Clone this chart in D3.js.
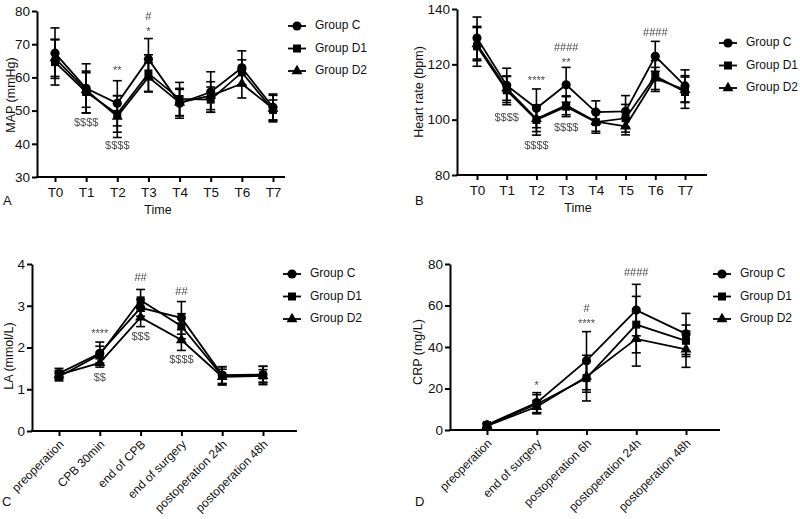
<!DOCTYPE html>
<html><head><meta charset="utf-8">
<script src="https://cdn.jsdelivr.net/npm/d3@7"></script>
<style>body{margin:0;background:#fff}svg{display:block;font-family:"Liberation Sans",Arial,sans-serif}</style>
</head><body><svg id="c" width="800" height="519"><defs><filter id="gray" x="-10%" y="-10%" width="120%" height="120%"><feColorMatrix type="saturate" values="0"/></filter></defs></svg>
<script>
// ---------- DATA ----------
const groups = ["Group C", "Group D1", "Group D2"];

// Panel A: MAP (mmHg)
const timePoints = ["T0","T1","T2","T3","T4","T5","T6","T7"];
const mapC   = [67.3, 56.7, 52.2, 65.5, 52.2, 55.6, 62.9, 51.0];
const mapCsd = [7.6, 7.4, 6.8, 6.2, 4.5, 6.1, 5.1, 4.0];
const mapD1   = [64.6, 55.6, 49.0, 61.2, 53.5, 53.3, 61.5, 50.2];
const mapD1sd = [6.9, 6.3, 5.5, 5.6, 5.0, 3.8, 3.8, 3.0];
const mapD2   = [65.8, 56.2, 48.2, 60.1, 52.4, 54.5, 58.1, 50.6];
const mapD2sd = [5.5, 5.2, 6.3, 4.3, 4.0, 4.2, 4.3, 4.0];
const mapTicks = [30, 40, 50, 60, 70, 80];

// Panel B: Heart rate (bpm)
const hrC   = [129.5, 112.4, 104.1, 112.6, 102.7, 103.0, 122.9, 112.2];
const hrCsd = [7.6, 6.2, 7.0, 6.3, 4.1, 5.7, 5.4, 5.8];
const hrD1   = [126.5, 110.6, 99.9, 104.7, 99.1, 100.5, 115.8, 110.0];
const hrD1sd = [7.2, 5.2, 5.5, 3.6, 4.0, 5.0, 5.6, 5.9];
const hrD2   = [127.3, 111.3, 100.3, 105.2, 99.3, 97.6, 114.9, 110.8];
const hrD2sd = [6.0, 4.3, 4.6, 3.4, 3.5, 3.1, 4.0, 4.6];
const hrTicks = [80, 100, 120, 140];

// Panel C: LA (mmol/L)
const laTimes = ["preoperation","CPB 30min","end of CPB","end of surgery","postoperation 24h","postoperation 48h"];
const laC   = [1.38, 1.86, 2.95, 2.71, 1.34, 1.35];
const laCsd = [0.12, 0.27, 0.20, 0.39, 0.20, 0.20];
const laD1   = [1.30, 1.83, 3.13, 2.51, 1.32, 1.33];
const laD1sd = [0.10, 0.20, 0.26, 0.30, 0.22, 0.22];
const laD2   = [1.35, 1.63, 2.72, 2.18, 1.30, 1.32];
const laD2sd = [0.10, 0.10, 0.22, 0.25, 0.18, 0.15];
const laTicks = [0, 1, 2, 3, 4];

// Panel D: CRP (mg/L)
const crpTimes = ["preoperation","end of surgery","postoperation 6h","postoperation 24h","postoperation 48h"];
const crpC   = [2.5, 13.2, 33.4, 57.8, 46.3];
const crpCsd = [1.0, 4.8, 14.0, 12.4, 9.9];
const crpD1   = [2.3, 12.4, 25.0, 50.8, 43.0];
const crpD1sd = [1.0, 4.6, 11.0, 13.6, 7.6];
const crpD2   = [2.0, 11.2, 25.7, 43.9, 38.9];
const crpD2sd = [0.8, 3.0, 7.5, 13.1, 8.7];
const crpTicks = [0, 20, 40, 60, 80];

// significance marks: [category index, value at which text is centred, text]
const mapMarks = [[1, 46.3, "$$$$"], [2, 61.9, "**"], [2, 39.4, "$$$$"], [3, 73.6, "*"], [3, 78.3, "#"]];
const hrMarks  = [[1, 100.6, "$$$$"], [2, 114.0, "****"], [2, 90.6, "$$$$"], [3, 120.6, "**"], [3, 126.0, "####"], [3, 97.1, "$$$$"], [6, 131.3, "####"]];
const laMarks  = [[1, 2.33, "****"], [1, 1.26, "$$"], [2, 3.66, "##"], [2, 2.25, "$$$"], [3, 3.33, "##"], [3, 1.70, "$$$$"]];
const crpMarks = [[1, 21.0, "*"], [2, 51.2, "****"], [2, 58.3, "#"], [3, 75.7, "####"]];

// ---------- DRAW ----------
const svg = d3.select("#c");
const symTypes = [d3.symbolCircle, d3.symbolSquare, d3.symbolTriangle];
const symSizes = [66, 64, 52];

function panel(cfg) {
  const g = svg.append("g");
  const x = d3.scalePoint().domain(cfg.cats).range(cfg.pts);
  const y = d3.scaleLinear().domain(cfg.yDom).range(cfg.yRange);
  const yb = cfg.yRange[0];

  // y axis
  const ya = g.append("g").attr("transform", `translate(${cfg.axX[0]},0)`)
    .call(d3.axisLeft(y).tickValues(cfg.ticks).tickFormat(d3.format("d")).tickSize(5).tickSizeOuter(0).tickPadding(2));
  ya.select(".domain").attr("stroke-width", 2);
  ya.selectAll(".tick line").attr("stroke-width", 2);
  ya.selectAll("text").attr("font-size", 13.5).attr("fill", "#111").attr("font-family", "Liberation Sans, Arial");

  // x axis
  const xa = g.append("g").attr("transform", `translate(0,${yb})`)
    .call(d3.axisBottom(x).tickSize(5).tickSizeOuter(0));
  xa.select(".domain").remove();
  xa.append("line").attr("x1", cfg.axX[0] - 1).attr("x2", cfg.axX[1]).attr("stroke", "#000").attr("stroke-width", 2);
  xa.selectAll(".tick line").attr("stroke-width", 2);
  const xt = xa.selectAll(".tick text").attr("font-size", cfg.rot ? 12 : 13.5).attr("fill", "#111").attr("font-family", "Liberation Sans, Arial");
  if (cfg.rot) {
    xt.attr("text-anchor", "end").attr("dy", null).attr("y", 0)
      .attr("transform", "translate(5,14) rotate(-45)");
  } else {
    xt.attr("y", 10);
  }

  // axis titles
  g.append("text").attr("transform", `translate(${cfg.yTitleX},${cfg.yTitleY}) rotate(-90)`)
    .attr("text-anchor", "middle").attr("dominant-baseline", "middle").attr("font-size", 12.5).attr("fill", "#111").text(cfg.yTitle);
  if (cfg.xTitle) g.append("text").attr("x", cfg.xTitleX).attr("y", yb + 37).attr("text-anchor", "middle")
    .attr("font-size", 12.5).attr("fill", "#111").text(cfg.xTitle);
  g.append("text").attr("x", cfg.letter[0]).attr("y", cfg.letter[1]).attr("font-size", 13).attr("fill", "#111").text(cfg.letterText);

  // series
  cfg.series.forEach((s, i) => {
    const pts = cfg.cats.map((c, k) => ({c, v: s.v[k], sd: s.sd[k]}));
    g.append("path").datum(pts)
      .attr("d", d3.line().x(d => x(d.c)).y(d => y(d.v)))
      .attr("fill", "none").attr("stroke", "#000").attr("stroke-width", 1.8);
    const eb = g.append("g");
    pts.forEach(d => {
      const cx = x(d.c);
      eb.append("line").attr("x1", cx).attr("x2", cx).attr("y1", y(d.v - d.sd)).attr("y2", y(d.v + d.sd)).attr("stroke", "#000").attr("stroke-width", 1.6);
      [d.v - d.sd, d.v + d.sd].forEach(e => eb.append("line").attr("x1", cx - 4.5).attr("x2", cx + 4.5).attr("y1", y(e)).attr("y2", y(e)).attr("stroke", "#000").attr("stroke-width", 1.6));
    });
    g.append("g").selectAll("path").data(pts).join("path")
      .attr("transform", d => `translate(${x(d.c)},${y(d.v)})`)
      .attr("d", d3.symbol(symTypes[i], symSizes[i])).attr("fill", "#000");
  });

  // significance marks
  g.append("g").attr("filter", "url(#gray)").selectAll("text").data(cfg.marks).join("text")
    .attr("x", d => x(cfg.cats[d[0]])).attr("y", d => y(d[1]))
    .attr("text-anchor", "middle").attr("dominant-baseline", "middle")
    .attr("font-size", 11).attr("fill", "#4a4a4a").text(d => d[2]);

  // legend
  groups.forEach((name, i) => {
    const ly = cfg.leg[1] + i * 22.5;
    const lg = g.append("g");
    lg.append("line").attr("x1", cfg.leg[0] - 9).attr("x2", cfg.leg[0] + 9).attr("y1", ly).attr("y2", ly).attr("stroke", "#000").attr("stroke-width", 1.8);
    lg.append("path").attr("transform", `translate(${cfg.leg[0]},${ly})`).attr("d", d3.symbol(symTypes[i], symSizes[i])()).attr("fill", "#000");
    lg.append("text").attr("x", cfg.leg[0] + 18).attr("y", ly).attr("dominant-baseline", "middle")
      .attr("font-size", 12).attr("fill", "#111").text(name);
  });
}

panel({cats: timePoints, pts: [55, 273], axX: [37, 285], yDom: [30, 80], yRange: [177, 11], ticks: mapTicks,
  series: [{v: mapC, sd: mapCsd}, {v: mapD1, sd: mapD1sd}, {v: mapD2, sd: mapD2sd}], marks: mapMarks,
  yTitle: "MAP (mmHg)", yTitleX: 12, yTitleY: 95, xTitle: "Time", xTitleX: 158, letter: [3, 205], letterText: "A", leg: [297, 26]});
panel({cats: timePoints, pts: [477, 685], axX: [457, 707], yDom: [80, 140], yRange: [175, 9], ticks: hrTicks,
  series: [{v: hrC, sd: hrCsd}, {v: hrD1, sd: hrD1sd}, {v: hrD2, sd: hrD2sd}], marks: hrMarks,
  yTitle: "Heart rate (bpm)", yTitleX: 420, yTitleY: 92, xTitle: "Time", xTitleX: 578, letter: [415, 205], letterText: "B", leg: [728, 43]});
panel({cats: laTimes, pts: [59, 263], axX: [32, 297], yDom: [0, 4], yRange: [431, 264], ticks: laTicks, rot: true,
  series: [{v: laC, sd: laCsd}, {v: laD1, sd: laD1sd}, {v: laD2, sd: laD2sd}], marks: laMarks,
  yTitle: "LA (mmol/L)", yTitleX: 10, yTitleY: 356, letter: [2, 506], letterText: "C", leg: [292, 274]});
panel({cats: crpTimes, pts: [487, 686], axX: [450, 720], yDom: [0, 80], yRange: [430, 264], ticks: crpTicks, rot: true,
  series: [{v: crpC, sd: crpCsd}, {v: crpD1, sd: crpD1sd}, {v: crpD2, sd: crpD2sd}], marks: crpMarks,
  yTitle: "CRP (mg/L)", yTitleX: 419, yTitleY: 352, letter: [415, 506], letterText: "D", leg: [722, 274]});
</script></body></html>
